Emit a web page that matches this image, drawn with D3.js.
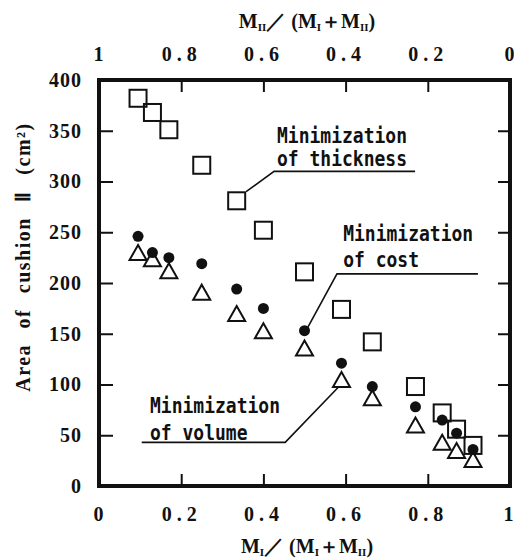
<!DOCTYPE html>
<html>
<head>
<meta charset="utf-8">
<script src="https://cdn.jsdelivr.net/npm/d3@7"></script>
<style>
  body { margin: 0; background: #fff; }
  svg { display: block; }
  .tick text { font-family: "Liberation Serif", serif; font-weight: bold; font-size: 20px; fill: #111; }
  .tick line { stroke: #111; stroke-width: 2; }
  .note { font-family: "DejaVu Sans Mono", monospace; font-weight: bold; font-size: 18px; fill: #111; }
  .title { font-family: "Liberation Serif", serif; font-weight: bold; font-size: 20px; fill: #111; }
</style>
</head>
<body>
<svg id="chart" width="514" height="559"></svg>
<script>
// Mass ratio M_I / (M_I + M_II) of each design case
const ratio = [0.095, 0.13, 0.17, 0.25, 0.335, 0.40, 0.50, 0.59, 0.665, 0.77, 0.835, 0.87, 0.91];
// Area of cushion II (cm²) for each optimisation target
const areaThickness = [382, 368, 351, 316, 281, 252, 211, 174, 142, 98, 72, 56, 40];
const areaCost      = [246, 230, 225, 219, 194, 175, 153, 121, 98, 78, 65, 52, 36];
const areaVolume    = [230, 224, 212, 191, 170, 153, 136, 105, 87, 60, 43, 35, 26];
// Axis ticks
const xTicks = [0, 0.2, 0.4, 0.6, 0.8, 1];
const yTicks = [0, 50, 100, 150, 200, 250, 300, 350, 400];

const svg = d3.select("#chart");
const x = d3.scaleLinear().domain([0, 1]).range([99, 510]);
const xTop = d3.scaleLinear().domain([1, 0]).range([99, 510]);
const y = d3.scaleLinear().domain([0, 400]).range([486, 80]);

const fmt = d => (d === 0 || d === 1) ? String(d) : d3.format(".1f")(d);

// Axes with inward ticks
const gB = svg.append("g").attr("transform", `translate(0,${y(0)})`)
  .call(d3.axisBottom(x).tickValues(xTicks).tickFormat(fmt).tickSize(-12).tickPadding(21));
const gT = svg.append("g").attr("transform", `translate(0,${y(400)})`)
  .call(d3.axisTop(xTop).tickValues(xTicks).tickFormat(fmt).tickSize(-12).tickPadding(19));
const gL = svg.append("g").attr("transform", `translate(${x(0)},0)`)
  .call(d3.axisLeft(y).tickValues(yTicks).tickSize(-14).tickPadding(17));
const gR = svg.append("g").attr("transform", `translate(${x(1)},0)`)
  .call(d3.axisRight(y).tickValues(yTicks).tickFormat("").tickSize(-12));
[gB, gT, gL, gR].forEach(g => {
  g.select(".domain").remove();
  g.selectAll(".tick text").style("letter-spacing", d => String(d).includes(".") ? "5px" : "2px");
});
gL.selectAll(".tick text").style("letter-spacing", "1px");
// the label at the right-hand frame edge is right-aligned so it stays inside the page
gB.selectAll(".tick text").filter(d => d === 1)
  .attr("text-anchor", "end").attr("x", 3).style("letter-spacing", "0px");
gT.selectAll(".tick text").filter(d => d === 0)
  .attr("text-anchor", "end").attr("x", 4).style("letter-spacing", "0px");
// hide tick marks sitting on the frame corners
[gB, gT].forEach(g => g.selectAll(".tick line").filter(d => d === 0 || d === 1).remove());
[gL, gR].forEach(g => g.selectAll(".tick line").filter(d => d === 0 || d === 400).remove());

// Frame
svg.append("rect")
  .attr("x", x(0)).attr("y", y(400))
  .attr("width", x(1) - x(0)).attr("height", y(0) - y(400))
  .attr("fill", "none").attr("stroke", "#111").attr("stroke-width", 4);

// Axis titles
function massTitle(g, num) {
  const t = g.append("text").attr("class", "title").attr("text-anchor", "middle");
  const sub = s => t.append("tspan").attr("font-size", "11px").attr("dy", "3").text(s);
  const up = s => t.append("tspan").attr("dy", "-3").text(s);
  t.append("tspan").text("M");
  sub(num);
  up("／ (M");
  sub("I");
  up("＋M");
  sub("II");
  up(")");
  return t;
}
massTitle(svg.append("g").attr("transform", "translate(307,28)"), "II");
massTitle(svg.append("g").attr("transform", "translate(307,553)"), "I");

svg.append("text").attr("class", "title")
  .attr("transform", "translate(30,257) rotate(-90)")
  .attr("text-anchor", "middle")
  .style("letter-spacing", "1.5px").style("word-spacing", "9px")
  .text("Area of cushion Ⅱ (cm²)");

// Annotations: label lines in data units, leader to a marker
const notes = [
  { lines: ["Minimization", "of thickness"], tx: 0.433, ty: [338, 315],
    under: [0.426, 0.769, 310], tip: [0.358, 290] },
  { lines: ["Minimization", "of cost"], tx: 0.594, ty: [241, 216],
    under: [0.579, 0.922, 209], tip: [0.505, 154] },
  { lines: ["Minimization", "of volume"], tx: 0.124, ty: [72, 45],
    under: [0.104, 0.453, 43], tip: [0.584, 98] }
];
notes.forEach((n, i) => {
  n.lines.forEach((s, j) => {
    svg.append("text").attr("class", "note")
      .attr("transform", `translate(${x(n.tx)},${y(n.ty[j])}) scale(1,1.2)`)
      .text(s);
  });
  // underline plus leader; the leader leaves from the left end (thickness, cost) or right end (volume)
  const startX = i === 2 ? n.under[1] : n.under[0];
  const endX = i === 2 ? n.under[0] : n.under[1];
  svg.append("path")
    .attr("d", d3.line()([[x(endX), y(n.under[2])], [x(startX), y(n.under[2])], [x(n.tip[0]), y(n.tip[1])]]))
    .attr("fill", "none").attr("stroke", "#111").attr("stroke-width", 1.6);
});

// Markers
const S = 17;
svg.append("g").selectAll("rect").data(ratio).join("rect")
  .attr("x", (d, i) => x(d) - S / 2).attr("y", (d, i) => y(areaThickness[i]) - S / 2)
  .attr("width", S).attr("height", S)
  .attr("fill", "none").attr("stroke", "#111").attr("stroke-width", 2);

svg.append("g").selectAll("path").data(ratio).join("path")
  .attr("transform", (d, i) => `translate(${x(d)},${y(areaVolume[i])})`)
  .attr("d", "M0,-7.5L8.5,7.5L-8.5,7.5Z")
  .attr("fill", "none").attr("stroke", "#111").attr("stroke-width", 2).attr("stroke-linejoin", "miter");

svg.append("g").selectAll("circle").data(ratio).join("circle")
  .attr("cx", d => x(d)).attr("cy", (d, i) => y(areaCost[i]))
  .attr("r", 5.5).attr("fill", "#111");
</script>
</body>
</html>
